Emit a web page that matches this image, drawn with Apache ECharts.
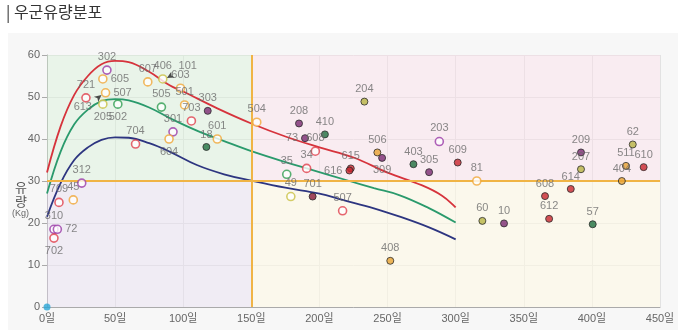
<!DOCTYPE html>
<html><head><meta charset="utf-8">
<script src="https://cdn.jsdelivr.net/npm/echarts@6/dist/echarts.min.js"></script>
<style>html,body{margin:0;padding:0;background:#fff}#c{width:680px;height:332px}</style>
</head><body><div id="c"></div>
<script>
// ---- data ----
const xTicks = [0, 50, 100, 150, 200, 250, 300, 350, 400, 450];
const yTicks = [0, 10, 20, 30, 40, 50, 60];
const dayThreshold = 150;
const flowThreshold = 30;

const redCurve = [[0,32],[10,43],[20,50.5],[30,55],[40,57.8],[50,58.6],[60,58.3],[75,56],[90,52.8],[100,51.3],[125,47.3],[150,43.7],[175,40.6],[200,38],[225,35.6],[250,32],[275,29],[290,26.5],[300,23.7]];
const greenCurve = [[0,27],[10,37],[20,43.5],[30,47],[40,49],[50,49.5],[60,49.2],[75,47.5],[90,45],[110,42],[130,39.5],[150,37.1],[175,34.5],[195,32.6],[222,30],[240,28.3],[259,26.6],[280,23.6],[300,20.1]];
const navyCurve = [[0,21.5],[10,29.5],[20,35],[30,38],[40,39.8],[50,40.4],[60,40.3],[75,39],[90,37],[110,33.8],[130,31.6],[150,30.1],[175,28.4],[200,27],[217,25.5],[240,23.5],[259,21.5],[280,19],[300,16.1]];

const hollowPurple = [[44,56.4,'302'],[92.5,41.7,'301'],[25.5,29.5,'312'],[5.1,18.5,'310'],[7.6,18.5,'72'],[288,39.4,'203']];
const hollowOrange = [[41,54.3,'605'],[43,51,'507'],[74,53.6,'607'],[98,52.1,'603'],[101,48.1,'501'],[154,44,'504'],[89.6,40,'604'],[125,40,'601'],[19.3,25.5,'45'],[315.5,30,'81']];
const hollowOlive = [[41,48.3,'205'],[85,54.3,'406'],[179,26.3,'49']];
const hollowGreen = [[52,48.3,'502'],[84,47.6,'505'],[176,31.6,'35']];
const hollowRed = [[28.6,49.8,'721'],[65,38.8,'704'],[106,44.3,'703'],[8.8,24.9,'709'],[5.1,16.4,'702'],[197,37.1,'608'],[190.6,33,'34'],[217,22.9,'507']];
const filledPurple = [[118,46.7,'303'],[185,43.7,'208'],[189.4,40.2,'73'],[246,35.5,'309'],[280.5,32.1,'305'],[335.5,19.9,'10'],[392,36.8,'209']];
const filledGreen = [[117,38.1,'18'],[204,41.1,'410'],[269,34,'403'],[400.6,19.7,'57']];
const filledOlive = [[233,48.9,'204'],[319.6,20.5,'60'],[392,32.8,'207'],[430,38.7,'62']];
const filledRed = [[223,33,'615'],[222,32.5,'616'],[301.5,34.4,'609'],[365.6,26.4,'608'],[368.6,21,'612'],[384.5,28.1,'614'],[438,33.3,'610']];
const filledMaroon = [[195,26.3,'701']];
const filledOrange = [[242.5,36.8,'506'],[252,11,'408'],[425,33.6,'511'],[422,30,'404']];
const pointers = [[40,50.5,'613'],[88,54.5,'101']];
const origin = [[0,0,'']];

// ---- styling ----
const FONT = "'Liberation Sans', 'Noto Sans CJK KR', sans-serif";
const labelPos = {
  'hollowOrange:605':'right','hollowOrange:507':'right','hollowOlive:205':'bottom','hollowGreen:502':'bottom',
  'hollowOrange:604':'bottom','hollowPurple:72':'right','hollowRed:702':'bottom','filledPurple:73':'left',
  'filledRed:616':'left','filledPurple:309':'bottom'
};
function pts(group, arr, color, filled, border) {
  return {
    type: 'scatter', name: group, z: 5,
    symbol: 'circle', symbolSize: filled ? 7 : 8,
    data: arr.map(d => ({
      value: [d[0], d[1]], name: d[2],
      label: { position: labelPos[group + ':' + d[2]] || 'top' }
    })),
    itemStyle: filled ? { color: color, borderColor: border || '#2a2a2a', borderWidth: 1 }
                      : { color: '#fff', borderColor: color, borderWidth: 1.6 },
    label: { show: true, formatter: p => p.name, color: '#6a6a6a', fontSize: 11, fontFamily: FONT, distance: 3 }
  };
}
function curve(data, color, w) {
  return { type: 'line', data: data, smooth: 0.4, showSymbol: false, symbol: 'none', z: 3,
    lineStyle: { color: color, width: w }, silent: true };
}
const pointerLabel = [
  { position: 'left', offset: [0, 10] },
  { position: 'right', offset: [2, -10] }
];

const chart = echarts.init(document.getElementById('c'), null, { renderer: 'canvas' });
chart.setOption({
  animation: false,
  backgroundColor: '#ffffff',
  graphic: [
    { type: 'rect', shape: { x: 8, y: 33, width: 670, height: 297 }, style: { fill: '#f7f7f7' }, z: -10 },
    { type: 'text', left: 6, top: 4, style: { text: '| 우군유량분포', fill: '#333', font: "16px 'Noto Sans CJK KR', sans-serif" } },
    { type: 'text', left: 15, top: 180, style: { text: '유\n량', fill: '#555', font: "13px 'Noto Sans CJK KR', sans-serif", lineHeight: 14, align: 'center' } },
    { type: 'text', left: 12, top: 209, style: { text: '(Kg)', fill: '#666', font: "9px 'Liberation Sans', sans-serif" } }
  ],
  grid: { left: 47, right: 20, top: 55, bottom: 25, containLabel: false },
  xAxis: {
    type: 'value', min: xTicks[0], max: xTicks[xTicks.length - 1], interval: 50,
    axisLine: { show: true, lineStyle: { color: '#aaa' } },
    axisTick: { show: false },
    axisLabel: { formatter: v => v + '일', color: '#666', fontSize: 11, fontFamily: FONT, margin: 6 },
    splitLine: { show: true, lineStyle: { color: '#e2e2e2', width: 1 } }
  },
  yAxis: {
    type: 'value', min: yTicks[0], max: yTicks[yTicks.length - 1], interval: 10,
    axisLine: { show: true, lineStyle: { color: '#aaa' } },
    axisTick: { show: true, inside: false, length: 5, lineStyle: { color: '#aaa' } },
    axisLabel: { color: '#666', fontSize: 11, fontFamily: FONT, margin: 7 },
    splitLine: { show: true, lineStyle: { color: '#e2e2e2', width: 1 } }
  },
  series: [
    { type: 'line', data: [], z: 1, silent: true,
      markArea: { silent: true, data: [
        [{ xAxis: xTicks[0], yAxis: flowThreshold, itemStyle: { color: 'rgba(214,240,214,0.42)' } }, { xAxis: dayThreshold, yAxis: yTicks[yTicks.length-1] }],
        [{ xAxis: dayThreshold, yAxis: flowThreshold, itemStyle: { color: 'rgba(252,222,234,0.42)' } }, { xAxis: xTicks[xTicks.length-1], yAxis: yTicks[yTicks.length-1] }],
        [{ xAxis: xTicks[0], yAxis: yTicks[0], itemStyle: { color: 'rgba(232,222,240,0.42)' } }, { xAxis: dayThreshold, yAxis: flowThreshold }],
        [{ xAxis: dayThreshold, yAxis: yTicks[0], itemStyle: { color: 'rgba(255,250,228,0.55)' } }, { xAxis: xTicks[xTicks.length-1], yAxis: flowThreshold }]
      ] },
      markLine: { silent: true, symbol: 'none', label: { show: false },
        lineStyle: { color: '#f0b445', width: 2, type: 'solid' },
        data: [{ xAxis: dayThreshold }, { yAxis: flowThreshold }] }
    },
    curve(redCurve, '#d6333c', 1.8),
    curve(greenCurve, '#2a9a6c', 1.8),
    curve(navyCurve, '#2d3580', 1.8),
    pts('hollowPurple', hollowPurple, '#9a3aa8', false),
    pts('hollowOrange', hollowOrange, '#f0a838', false),
    pts('hollowOlive', hollowOlive, '#c9c044', false),
    pts('hollowGreen', hollowGreen, '#2e9e50', false),
    pts('hollowRed', hollowRed, '#e0404c', false),
    pts('filledPurple', filledPurple, '#7a2a72', true),
    pts('filledGreen', filledGreen, '#1f7040', true),
    pts('filledOlive', filledOlive, '#b8b444', true),
    pts('filledRed', filledRed, '#c8262e', true),
    pts('filledMaroon', filledMaroon, '#8a1a3a', true),
    pts('filledOrange', filledOrange, '#e8a232', true),
    { type: 'scatter', z: 6, symbol: 'arrow', symbolSize: [5, 7],
      data: pointers.map((d, i) => ({ value: [d[0], d[1]], name: d[2], symbolRotate: i === 0 ? -50 : 120,
        label: pointerLabel[i] })),
      itemStyle: { color: '#222' },
      label: { show: true, formatter: p => p.name, color: '#6a6a6a', fontSize: 11, fontFamily: FONT, distance: 2 }
    },
    { type: 'scatter', z: 6, symbol: 'circle', symbolSize: 7, data: origin,
      itemStyle: { color: '#2aa6d6' }, label: { show: false } }
  ]
});
</script></body></html>
